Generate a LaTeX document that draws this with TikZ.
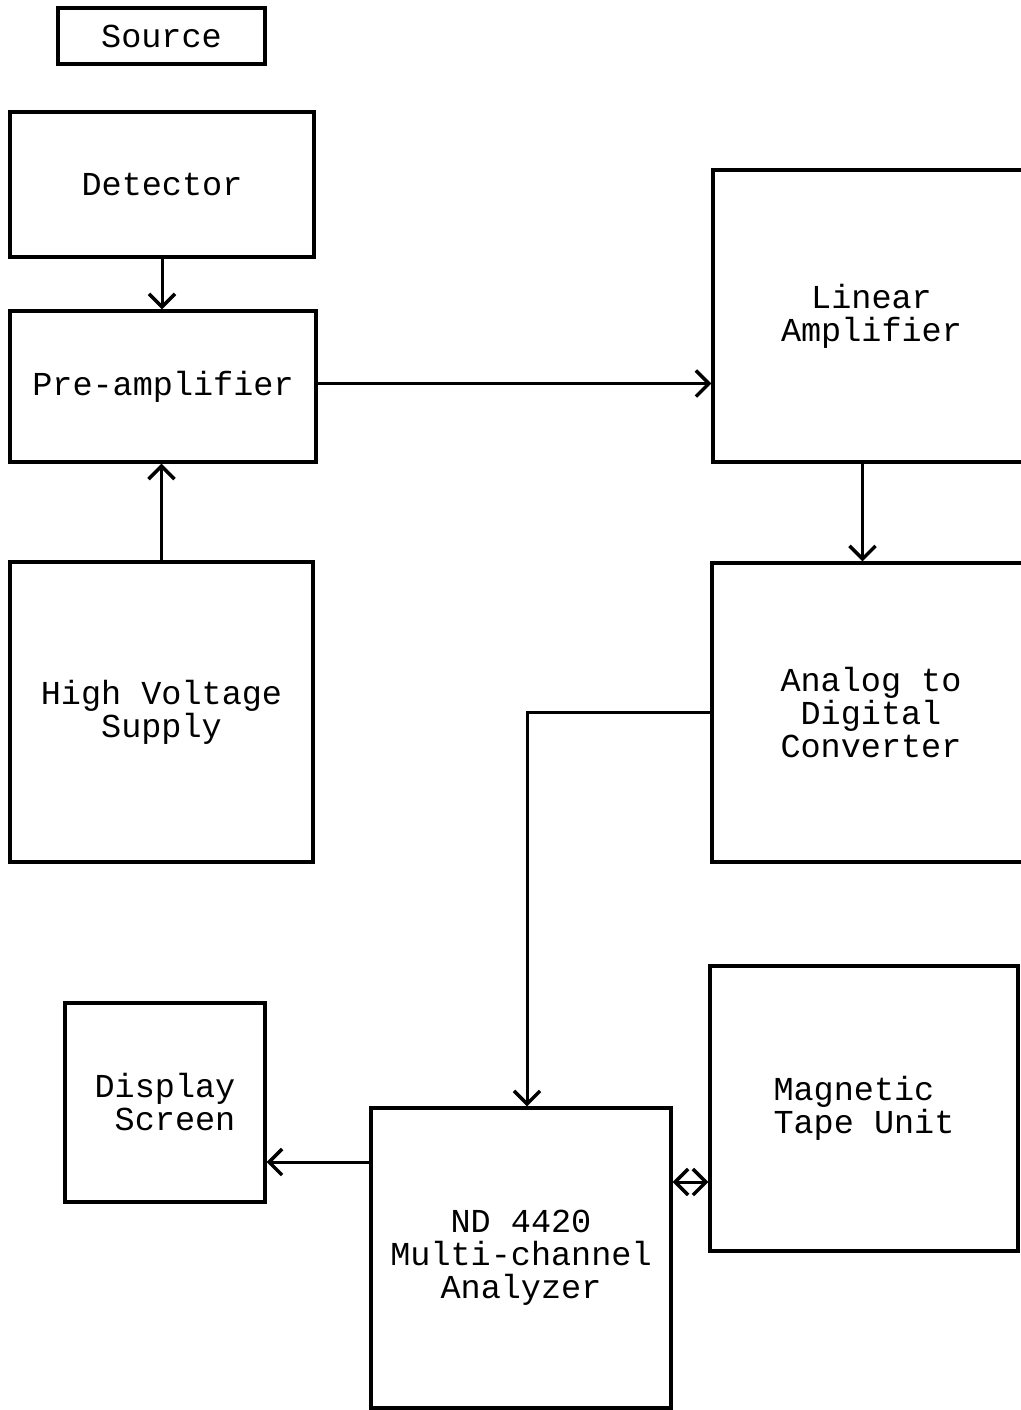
\documentclass[tikz,border=0pt]{standalone}
\usepackage{fontspec}
\setmainfont{Liberation Mono}
\usetikzlibrary{arrows.meta}

\begin{document}
\begin{tikzpicture}[x=1pt, y=-1pt,
	box/.style={draw, line width=3.4pt, rectangle, inner sep=0pt, align=center,
		font=\fontsize{33.5}{33}\selectfont},
	conn/.style={line width=3pt, ->},
	>={Straight Barb[length=13pt, width=26pt, line width=3.4pt]}]
	\useasboundingbox (0,0) rectangle (1020,1410);
	% left column
	\node[box, minimum width=207pt, minimum height=56pt] (source) at (161.5,36) {Source};
	\node[box, minimum width=304pt, minimum height=145pt] (detector) at (162,184.5) {Detector};
	\node[box, minimum width=306pt, minimum height=151pt] (preamp) at (163,386.5) {Pre-amplifier};
	\node[box, minimum width=303pt, minimum height=300pt] (hvs) at (161.5,712) {High Voltage\\Supply};
	% right column (runs past the edge)
	\node[box, minimum width=317pt, minimum height=292pt] (linamp) at (871.5,316) {Linear\\Amplifier};
	\node[box, minimum width=318pt, minimum height=299pt] (adc) at (871,712.5) {Analog to\\Digital\\Converter};
	% bottom row
	\node[box, minimum width=200pt, minimum height=199pt, align=right] (display) at (165,1102.5) {Display\\Screen};
	\node[box, minimum width=300pt, minimum height=300pt] (mca) at (521,1258) {ND 4420\\Multi-channel\\Analyzer};
	\node[box, minimum width=308pt, minimum height=285pt, align=left] (tape) at (864,1108.5) {Magnetic\\Tape Unit};
	% connections
	\draw[conn] (detector.south) -- (detector.south |- preamp.north);
	\draw[conn] (hvs.north) -- (hvs.north |- preamp.south);
	\draw[conn] ([yshift=3pt]preamp.east) -- ([yshift=3pt]preamp.east -| linamp.west);
	\draw[conn] ([xshift=-9pt]linamp.south) -- ([xshift=-9pt]linamp.south |- adc.north);
	\draw[conn] (adc.west) -| ([xshift=6pt]mca.north);
	\draw[conn] ([yshift=96pt]mca.west) -- ([yshift=96pt]mca.west -| display.east);
	\draw[conn, <->] ([yshift=76pt]mca.east) -- ([yshift=76pt]mca.east -| tape.west);
\end{tikzpicture}
\end{document}
